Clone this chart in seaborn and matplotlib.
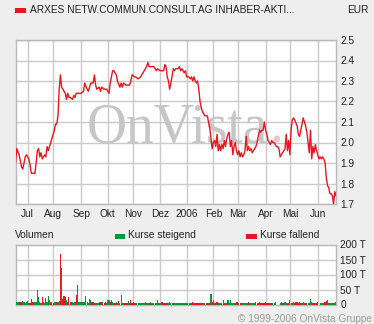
import numpy as np
import pandas as pd
import matplotlib
matplotlib.use("Agg")
import matplotlib.pyplot as plt
import seaborn as sns

# ---------------- data ----------------
start_date = "2005-06-17"          # first trading day shown
month_starts = ["2005-07-01", "2005-08-01", "2005-09-01", "2005-10-03", "2005-11-01",
                "2005-12-01", "2006-01-02", "2006-02-01", "2006-03-01", "2006-04-03",
                "2006-05-01", "2006-06-01"]
month_labels = ["Jul", "Aug", "Sep", "Okt", "Nov", "Dez", "2006", "Feb", "Mär", "Apr", "Mai", "Jun"]

# trading-day number (business days since start_date) and closing price in EUR
price_day = [0, 1, 3, 4, 5, 6, 7, 8, 9, 11, 12, 13, 15, 16, 17, 18, 19, 20, 21, 22, 24, 25, 26, 27, 28,
             29, 30, 31, 32, 33, 34, 35, 36, 37, 38, 39, 40, 41, 42, 43, 44, 45, 47, 48, 49, 50, 54, 56,
             57, 59, 60, 62, 64, 65, 66, 67, 69,
             70, 71, 73, 75, 76, 77, 78, 80, 81, 82, 83, 84, 86, 87, 88, 89, 91, 92, 94, 95, 96, 98, 99,
             101, 103, 105, 106, 108, 109, 110, 114, 115, 116, 117, 119, 121, 122, 123, 124, 125, 126,
             127, 128, 130, 131, 132,
             134, 135, 136, 137, 138, 139, 140, 141, 143, 144, 145, 146, 147, 148, 149, 150, 151, 152,
             153, 154, 155, 156, 157, 158, 160, 161, 162, 163, 164, 165, 166, 167, 168, 169, 170, 171,
             172, 173, 174, 175, 176, 177, 178, 179, 180, 181, 182, 183, 184, 185, 186, 187, 188, 189,
             190, 191, 192, 193, 194, 195, 196, 198, 199,
             200, 201, 202, 203, 204, 205, 206, 207, 208, 210, 211, 212, 213, 214, 215, 216, 217, 218,
             219, 221, 222, 223, 224, 225, 226, 227, 228, 229, 230, 232, 233, 234, 235, 236, 237, 238,
             239, 240, 241, 242, 243, 244, 245, 246, 247, 248, 249, 250, 251, 252, 253, 254, 255, 256,
             257, 258, 259, 260, 261, 262, 263, 264]
price = [1.90, 1.97, 1.94, 1.91, 1.88, 1.87, 1.90, 1.93, 1.94, 1.92, 1.89, 1.85, 1.85, 1.85, 1.90, 1.96,
         1.97, 1.93, 1.95, 1.92, 1.94, 1.93, 1.98, 1.96, 1.98, 2.00, 2.02, 2.04, 2.06, 2.09, 2.09, 2.13,
         2.26, 2.33, 2.27, 2.26, 2.25, 2.24, 2.21, 2.24, 2.22, 2.22, 2.21, 2.23, 2.22, 2.24, 2.24, 2.25,
         2.29, 2.26, 2.25, 2.29, 2.29, 2.33, 2.28, 2.26, 2.27,
         2.25, 2.27, 2.26, 2.26, 2.25, 2.24, 2.29, 2.35, 2.35, 2.34, 2.33, 2.30, 2.27, 2.29, 2.27, 2.29,
         2.28, 2.28, 2.28, 2.30, 2.33, 2.32, 2.32, 2.31, 2.32, 2.34, 2.35, 2.37, 2.39, 2.37, 2.37, 2.36,
         2.35, 2.36, 2.35, 2.35, 2.35, 2.38, 2.37, 2.32, 2.30, 2.26, 2.29, 2.36, 2.35, 2.36,
         2.36, 2.37, 2.35, 2.36, 2.35, 2.34, 2.35, 2.32, 2.32, 2.31, 2.32, 2.30, 2.32, 2.30, 2.29, 2.30,
         2.26, 2.20, 2.17, 2.15, 2.14, 2.13, 2.13, 2.13, 2.07, 2.02, 1.97, 2.00, 2.01, 1.98, 2.04, 1.96,
         1.99, 1.96, 1.99, 1.97, 2.01, 1.98, 2.02, 2.04, 2.05, 1.98, 2.01, 1.94, 1.98, 2.00, 1.96, 1.94,
         1.96, 1.93, 1.95, 1.93, 1.94, 1.96, 2.03, 1.96, 1.98, 1.96, 1.97, 1.95, 1.96, 1.98, 2.00,
         2.03, 2.06, 2.05, 2.06, 2.06, 2.10, 2.06, 2.04, 2.01, 1.99, 2.01, 2.00, 2.00, 1.99, 1.98, 1.98,
         1.97, 1.93, 1.94, 1.96, 1.97, 2.04, 1.96, 2.01, 1.94, 2.06, 2.11, 2.12, 2.11, 2.08, 2.04, 2.03,
         2.06, 2.09, 2.12, 2.10, 2.08, 2.05, 2.00, 1.95, 2.06, 1.92, 1.98, 1.95, 1.99, 1.96, 1.94, 1.92,
         1.93, 1.92, 1.93, 1.92, 1.90, 1.83, 1.79, 1.78, 1.75, 1.75, 1.74, 1.70, 1.76, 1.74]

# daily volume in thousands (trading days 0..264) and direction (g = rising, r = falling)
volume = [10, 10, 8, 7, 10, 7, 13, 9, 5, 8, 12, 6, 6, 18, 9, 8, 8, 8, 48, 24,
          9, 6, 25, 9, 6, 22, 8, 28, 16, 9, 9, 6, 8, 7, 9, 8, 12, 170, 122, 20,
          28, 24, 16, 8, 24, 8, 8, 8, 6, 7, 32, 65, 8, 7, 8, 8, 10, 9, 28, 10,
          6, 18, 14, 8, 10, 6, 6, 6, 5, 8, 7, 7, 8, 6, 7, 6, 14, 14, 8, 14,
          8, 5, 6, 9, 6, 12, 6, 31, 6, 6, 6, 6, 5, 12, 6, 14, 6, 8, 5, 5,
          5, 5, 5, 5, 5, 5, 5, 8, 5, 5, 5, 8, 5, 5, 5, 5, 5, 14, 5, 5,
          7, 7, 5, 5, 6, 6, 6, 8, 5, 5, 5, 5, 5, 5, 5, 5, 5, 5, 5, 5,
          5, 5, 5, 5, 5, 5, 8, 5, 5, 5, 5, 5, 5, 5, 5, 5, 6, 5, 5, 5,
          5, 35, 8, 16, 6, 6, 8, 5, 5, 5, 5, 14, 5, 5, 5, 14, 5, 14, 5, 5,
          5, 5, 8, 8, 5, 5, 5, 5, 5, 5, 5, 5, 8, 5, 5, 5, 5, 5, 8, 5,
          5, 8, 5, 5, 5, 5, 8, 5, 5, 5, 5, 5, 5, 5, 8, 0, 0, 0, 5, 10,
          5, 5, 8, 5, 5, 5, 14, 5, 5, 8, 5, 8, 8, 5, 10, 5, 5, 8, 5, 5,
          5, 5, 5, 17, 8, 5, 5, 5, 5, 8, 0, 5, 5, 5, 5, 8, 12, 14, 5, 5,
          5, 5, 5, 5, 8]
direction = ("gggrrrggrgggrrrgggggrgrggrgggrggggrggrgrrrgrrrrgggrggggggggggggrrrgggrrrgrrggg"
             "rrgrrggrggggrrrgrrrrrgggggggggggrgrggrgggggrrrrrgggggggggggggggggggrrrrrrrrrrggrrrr"
             "grggrrgggggrgrgggggggrrgrrgggggrgggggrrrrrrrrrrrrrrgggggrgrrgggrrgrggrrrrrrggrrrggg"
             "grrgrrrggggrr")

month_pos = np.busday_count(start_date, month_starts)
n_days = len(volume)
direction = (direction + "g" * n_days)[:n_days]

# ---------------- style ----------------
BG = "#eeeeee"
GRID = "#cacaca"
RED = "#e8161e"
GREEN = "#00973a"
TXT = "#222222"
FS = 7.3

sns.set_style("white")
plt.rcParams["font.family"] = ["Liberation Sans", "DejaVu Sans"]

W, H = 374, 324
fig = plt.figure(figsize=(W / 100, H / 100), dpi=100, facecolor=BG)

def fx(px):
    return px / W

def fy(py):
    return 1 - py / H

L, R = 15.5, 336.0
ax = fig.add_axes([fx(L), fy(204), (R - L) / W, 164 / H])
axv = fig.add_axes([fx(L), fy(304.5), (R - L) / W, 60 / H])

# ---------------- price panel ----------------
ax.set_facecolor("white")
sns.lineplot(x=price_day, y=price, ax=ax, color=RED, linewidth=1.0, estimator=None, zorder=3)
ax.set_xlim(0, n_days - 1)
ax.set_ylim(1.7, 2.5)
ax.set_yticks(np.round(np.arange(1.7, 2.51, 0.1), 1))
ax.set_yticklabels([f"{v:.1f}" for v in np.arange(1.7, 2.51, 0.1)])
ax.set_xticks(month_pos)
ax.set_xticklabels(month_labels)
ax.yaxis.tick_right()
ax.tick_params(axis="y", length=0, labelsize=FS, pad=3, colors=TXT)
ax.tick_params(axis="x", length=0, labelsize=FS, pad=3.5, colors=TXT)
ax.grid(True, color=GRID, linewidth=1.0, zorder=0)
ax.set_axisbelow(True)
ax.set_xlabel("")
ax.set_ylabel("")
for s in ax.spines.values():
    s.set_color("#b8b8b8")
    s.set_linewidth(1.0)

# watermark
ax.text(0.222, 0.378, "OnVista", transform=ax.transAxes, fontsize=40,
        family=["Liberation Serif", "DejaVu Serif"], color="#c6c6c6",
        ha="left", va="baseline", zorder=1)
ax.text(0.792, 0.378, ".", transform=ax.transAxes, fontsize=40,
        family=["Liberation Serif", "DejaVu Serif"], color="#f2c6c8",
        ha="left", va="baseline", zorder=1)

# ---------------- volume panel ----------------
axv.set_facecolor("white")
vdf = pd.DataFrame({"day": np.arange(n_days), "vol": volume, "dir": list(direction)})
sns.barplot(data=vdf, x="day", y="vol", hue="dir", palette={"g": GREEN, "r": RED},
            native_scale=True, dodge=False, width=0.95, errorbar=None, legend=False,
            saturation=1, linewidth=0, ax=axv, zorder=3)
axv.set_xlim(0, n_days - 1)
axv.set_ylim(0, 200)
axv.set_yticks([0, 50, 100, 150, 200])
axv.set_yticklabels(["0", "50 T", "100 T", "150 T", "200 T"])
axv.set_xticks(month_pos)
axv.set_xticklabels([])
axv.yaxis.tick_right()
axv.tick_params(axis="y", length=0, labelsize=FS, pad=3, colors=TXT)
axv.tick_params(axis="x", length=0)
axv.grid(True, color=GRID, linewidth=1.0, zorder=0)
axv.set_axisbelow(True)
axv.set_xlabel("")
axv.set_ylabel("")
for s in axv.spines.values():
    s.set_color("#b8b8b8")
    s.set_linewidth(1.0)

# ---------------- header / legend texts ----------------
fig.patches.append(plt.Rectangle((fx(15), fy(12.5)), 11 / W, 5 / H, transform=fig.transFigure,
                                 facecolor=RED, edgecolor="none"))
fig.text(fx(30), fy(9.8), "ARXES NETW.COMMUN.CONSULT.AG INHABER-AKTI...", fontsize=FS,
         color=TXT, ha="left", va="center")
fig.text(fx(368), fy(9.8), "EUR", fontsize=FS, color=TXT, ha="right", va="center")

fig.text(fx(15), fy(235.5), "Volumen", fontsize=FS, color=TXT, ha="left", va="center")
fig.patches.append(plt.Rectangle((fx(114.5), fy(238.5)), 10.5 / W, 5 / H, transform=fig.transFigure,
                                 facecolor=GREEN, edgecolor="none"))
fig.text(fx(128.5), fy(235.5), "Kurse steigend", fontsize=FS, color=TXT, ha="left", va="center")
fig.patches.append(plt.Rectangle((fx(246), fy(238.5)), 10.5 / W, 5 / H, transform=fig.transFigure,
                                 facecolor=RED, edgecolor="none"))
fig.text(fx(260.5), fy(235.5), "Kurse fallend", fontsize=FS, color=TXT, ha="left", va="center")

fig.text(fx(372), fy(318.5), "© 1999-2006 OnVista Gruppe", fontsize=FS, color="#9a9a9a",
         ha="right", va="center")

fig.savefig("out.png", dpi=100, facecolor=BG)
